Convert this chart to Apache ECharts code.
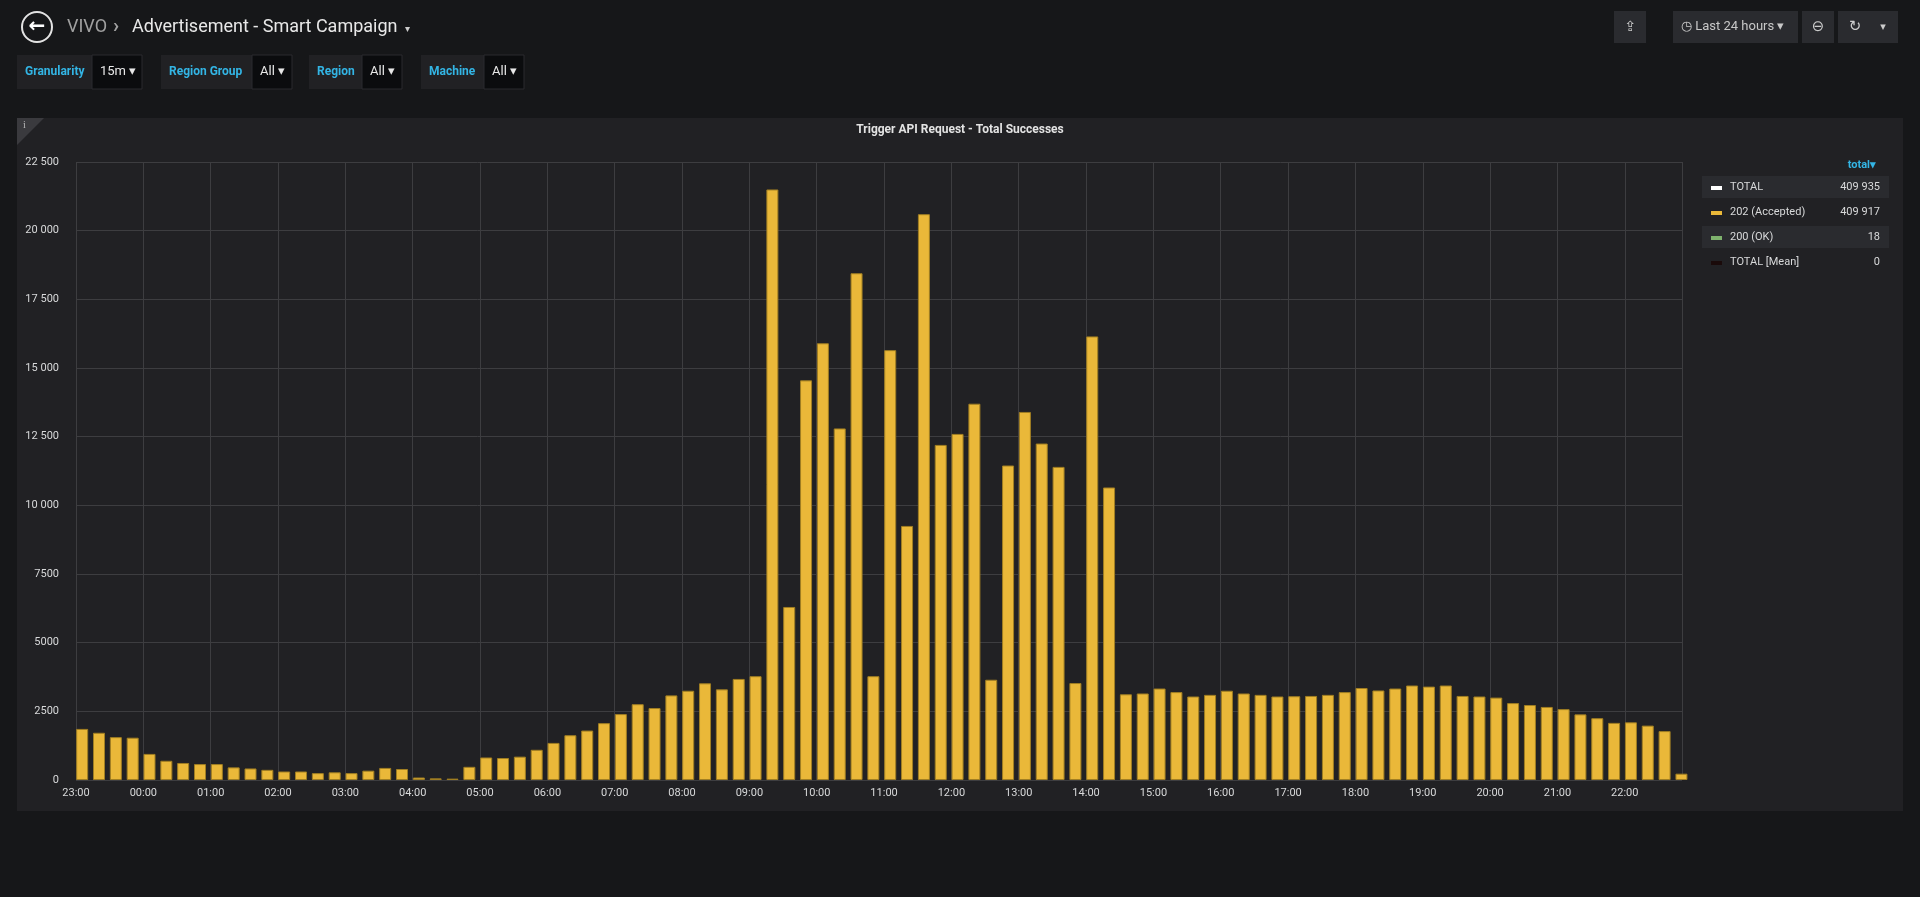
<!DOCTYPE html>
<html>
<head>
<meta charset="utf-8">
<script src="https://cdn.jsdelivr.net/npm/echarts@6/dist/echarts.min.js"></script>
<style>
  html, body { margin: 0; padding: 0; background: #161719; }
  #chart { width: 1920px; height: 897px; }
</style>
</head>
<body>
<div id="chart"></div>
<script>
// 15 minute buckets starting at 23:00
var values = [
  1860, 1720, 1560, 1540, 950, 700, 620, 580, 580, 460, 420, 370,
  310, 310, 250, 280, 250, 340, 440, 400, 90, 60, 50, 480,
  820, 800, 850, 1100, 1350, 1630, 1800, 2070, 2400, 2760, 2620, 3080,
  3250, 3520, 3300, 3680, 3780, 21500, 6300, 14550, 15900, 12800, 18450, 3780,
  15650, 9250, 20600, 12200, 12600, 13700, 3650, 11450, 13400, 12250, 11400, 3530,
  16150, 10650, 3120, 3150, 3330, 3200, 3040, 3100, 3250, 3150, 3100, 3040,
  3050, 3060, 3100, 3200, 3350, 3260, 3330, 3440, 3400, 3440, 3060, 3040,
  3000, 2800, 2730, 2660, 2580, 2390, 2250, 2080, 2100, 1980, 1780, 230
];
var hourLabels = ['23:00','00:00','01:00','02:00','03:00','04:00','05:00','06:00',
  '07:00','08:00','09:00','10:00','11:00','12:00','13:00','14:00','15:00','16:00',
  '17:00','18:00','19:00','20:00','21:00','22:00'];
var legendNames = ['TOTAL', '202 (Accepted)', '200 (OK)', 'TOTAL [Mean]'];
var legendValues = ['409 935', '409 917', '18', '0'];
var legendColors = ['#ffffff', '#EAB839', '#7EB26D', '#1a0a0a'];

var data = values.map(function (v, i) { return [i * 15 + 5.5, v]; });

var graphics = [
  { type: 'rect', shape: { x: 17, y: 118, width: 1886, height: 693 }, style: { fill: '#212124' }, z: -10 },
  { type: 'polygon', shape: { points: [[17, 118], [44, 118], [17, 145]] }, style: { fill: '#3a3a3e' } },
  { type: 'text', x: 23, y: 120, style: { text: 'i', fill: '#bbb', font: '10px serif' } },
  { type: 'text', x: 960, y: 130, style: { text: 'Trigger API Request - Total Successes', fill: '#e3e3e3', font: 'bold 12px Roboto', align: 'center', verticalAlign: 'middle' } },
  // header
  { type: 'circle', shape: { cx: 37, cy: 27, r: 15 }, style: { fill: 'none', stroke: '#e3e3e3', lineWidth: 2 } },
  { type: 'text', x: 37, y: 27, style: { text: '←', fill: '#fff', font: 'bold 20px "DejaVu Sans"', align: 'center', verticalAlign: 'middle' } },
  { type: 'text', x: 67, y: 27, style: { text: 'VIVO', fill: '#a0a0a0', font: '18px Roboto', verticalAlign: 'middle' } },
  { type: 'text', x: 113, y: 27, style: { text: '›', fill: '#a0a0a0', font: 'bold 20px Roboto', verticalAlign: 'middle' } },
  { type: 'text', x: 132, y: 27, style: { text: 'Advertisement - Smart Campaign', fill: '#e8e8e8', font: '18px Roboto', verticalAlign: 'middle' } },
  { type: 'text', x: 405, y: 29, style: { text: '▾', fill: '#ccc', font: '10px "DejaVu Sans"', verticalAlign: 'middle' } },
  // toolbar buttons
  { type: 'rect', shape: { x: 1614, y: 11, width: 32, height: 32 }, style: { fill: '#2a2b2f' } },
  { type: 'text', x: 1630, y: 27, style: { text: '⇪', fill: '#ccc', font: '14px "DejaVu Sans"', align: 'center', verticalAlign: 'middle' } },
  { type: 'rect', shape: { x: 1673, y: 11, width: 125, height: 32 }, style: { fill: '#2a2b2f' } },
  { type: 'text', x: 1681, y: 27, style: { text: '◷ Last 24 hours ▾', fill: '#c8c8c8', font: '13px Roboto', verticalAlign: 'middle' } },
  { type: 'rect', shape: { x: 1802, y: 11, width: 32, height: 32 }, style: { fill: '#2a2b2f' } },
  { type: 'text', x: 1818, y: 27, style: { text: '⊖', fill: '#ccc', font: '15px "DejaVu Sans"', align: 'center', verticalAlign: 'middle' } },
  { type: 'rect', shape: { x: 1838, y: 11, width: 60, height: 32 }, style: { fill: '#2a2b2f' } },
  { type: 'text', x: 1855, y: 27, style: { text: '↻', fill: '#ccc', font: '15px "DejaVu Sans"', align: 'center', verticalAlign: 'middle' } },
  { type: 'text', x: 1883, y: 27, style: { text: '▾', fill: '#ccc', font: '11px "DejaVu Sans"', align: 'center', verticalAlign: 'middle' } },
  // legend header
  { type: 'text', x: 1876, y: 165, style: { text: 'total▾', fill: '#33b5e5', font: 'bold 11px Roboto', align: 'right', verticalAlign: 'middle' } }
];

// variable pickers
var vars = [
  ['Granularity', '15m', 17, 75, 50],
  ['Region Group', 'All', 161, 91, 40],
  ['Region', 'All', 309, 53, 40],
  ['Machine', 'All', 421, 63, 40]
];
vars.forEach(function (v) {
  var x = v[2];
  graphics.push({ type: 'rect', shape: { x: x, y: 55, width: v[3], height: 34 }, style: { fill: '#212124' } });
  graphics.push({ type: 'text', x: x + 8, y: 72, style: { text: v[0], fill: '#33b5e5', font: 'bold 12px Roboto', verticalAlign: 'middle' } });
  graphics.push({ type: 'rect', shape: { x: x + v[3], y: 55, width: v[4], height: 34 }, style: { fill: '#0b0c0e', stroke: '#2a2b2f' } });
  graphics.push({ type: 'text', x: x + v[3] + 8, y: 72, style: { text: v[1] + ' ▾', fill: '#e8e8e8', font: '13px Roboto', verticalAlign: 'middle' } });
});

legendNames.forEach(function (n, i) {
  var y = 187 + i * 25;
  if (i % 2 === 0) {
    graphics.push({ type: 'rect', shape: { x: 1702, y: y - 11, width: 187, height: 22 }, style: { fill: '#2a2b2f' }, z: -5 });
  }
  graphics.push({ type: 'rect', shape: { x: 1711, y: y - 1, width: 11, height: 4 }, style: { fill: legendColors[i] } });
  graphics.push({ type: 'text', x: 1730, y: y, style: { text: n, fill: '#d8d9da', font: '11px Roboto', verticalAlign: 'middle' } });
  graphics.push({ type: 'text', x: 1880, y: y, style: { text: legendValues[i], fill: '#d8d9da', font: '11px Roboto', align: 'right', verticalAlign: 'middle' } });
});

var chart = echarts.init(document.getElementById('chart'));
chart.setOption({
  backgroundColor: '#161719',
  animation: false,
  graphic: graphics,
  grid: { left: 76, right: 238, top: 162, bottom: 117, containLabel: false },
  xAxis: {
    type: 'value', min: 0, max: 1431, interval: 60,
    axisLine: { show: false }, axisTick: { show: false },
    splitLine: { show: true, lineStyle: { color: '#3d3d40' } },
    axisLabel: {
      color: '#d8d9da', fontSize: 11, fontFamily: 'Roboto', margin: 8, showMaxLabel: false,
      formatter: function (v) { return hourLabels[Math.round(v / 60)] || ''; }
    }
  },
  yAxis: {
    type: 'value', min: 0, max: 22500, interval: 2500,
    axisLine: { show: false }, axisTick: { show: false },
    splitLine: { lineStyle: { color: '#3d3d40' } },
    axisLabel: {
      color: '#d8d9da', fontSize: 11, fontFamily: 'Roboto', margin: 17,
      formatter: function (v) { return v >= 10000 ? String(v).replace(/(\d{2})(\d{3})$/, '$1 $2') : String(v); }
    }
  },
  series: [{
    type: 'bar', data: data, barWidth: 12, clip: true,
    itemStyle: { color: '#EAB839', borderColor: '#a07e22', borderWidth: 1 }
  }]
});
</script>
</body>
</html>
